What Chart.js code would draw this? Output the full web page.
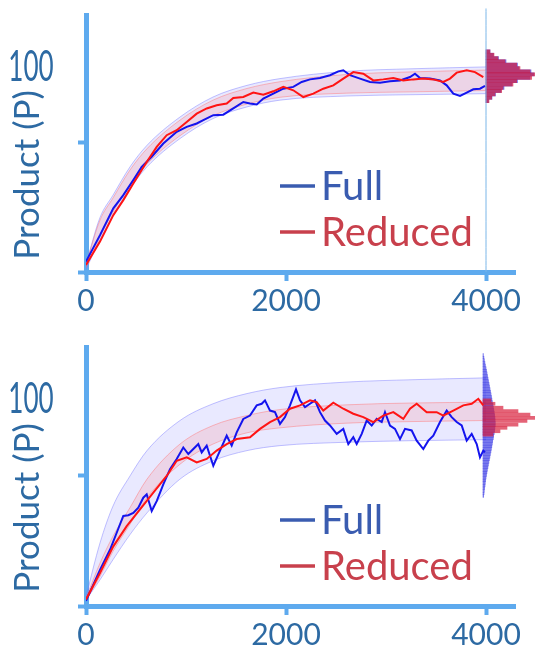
<!DOCTYPE html>
<html>
<head>
<meta charset="utf-8">
<script src="https://cdn.jsdelivr.net/npm/chart.js@4.4.0/dist/chart.umd.min.js"></script>
<style>
  html, body { margin: 0; padding: 0; background: #fff; }
  .panel { position: relative; width: 535px; height: 329px; }
</style>
</head>
<body>
<div class="panel"><canvas id="topChart"></canvas></div>
<div class="panel"><canvas id="bottomChart"></canvas></div>
<script>
// shared axis values
const xTicks = [0, 2000, 4000];
const yTicks = [0, 50];
const finalTime = 4000;
const bandTime = [0, 140, 270, 440, 610, 940, 1270, 1610, 1940, 2610, 3270, 4000];

// top panel
const topFullTime = [0, 140, 273, 373, 473, 557, 657, 773, 907, 1007, 1107, 1173, 1273, 1373, 1473, 1573, 1640, 1707, 1773, 1873, 1973, 2073, 2157, 2240, 2340, 2440, 2523, 2573, 2640, 2740, 2840, 2940, 3040, 3140, 3240, 3290, 3340, 3440, 3540, 3607, 3673, 3740, 3807, 3873, 3940, 3990];
const topFull = [4, 14.2, 24.5, 29.6, 35.4, 40.5, 44.4, 49.5, 54, 55.9, 57.2, 58.5, 60.4, 60.6, 63, 65.5, 64.9, 64.5, 66.8, 68.7, 70.6, 71.3, 73.2, 74.2, 74.7, 75.8, 77.3, 77.7, 75.8, 74.5, 73.2, 72.9, 73.5, 73.8, 75.1, 76.4, 74.7, 74.5, 73.8, 71.9, 68.7, 67.8, 69.1, 70.4, 70.6, 71.7];
const topReducedTime = [0, 140, 273, 373, 473, 607, 707, 807, 907, 1007, 1107, 1207, 1307, 1407, 1473, 1573, 1673, 1773, 1873, 1973, 2073, 2173, 2273, 2373, 2473, 2573, 2673, 2773, 2873, 2973, 3073, 3173, 3273, 3373, 3473, 3573, 3640, 3707, 3807, 3890, 3973];
const topReduced = [2.7, 11.7, 21.9, 27.7, 34.1, 42.4, 48.2, 52.7, 54.6, 57.8, 61, 63, 64.2, 64.9, 67, 67.4, 69.1, 68.3, 69.6, 71.3, 70, 67.4, 68.7, 70.6, 71.9, 74.5, 77, 76.4, 73.8, 74.2, 74.7, 73.8, 74.2, 74.5, 74.2, 73.2, 74.5, 76.8, 77.7, 77, 75.1];
const topFullUpper = [3, 21, 29.6, 40.5, 48.8, 59.7, 67.4, 71.9, 74.5, 77.3, 78.3, 79];
const topFullLower = [1, 12.5, 21.9, 32.2, 40.5, 51.4, 59.1, 63.6, 66.2, 67.8, 68.3, 68.7];
const topReducedUpper = [3, 20, 28.5, 39.3, 47.5, 58.5, 66.2, 70.7, 73.3, 76.1, 77.1, 77.8];
const topReducedLower = [1.5, 13.5, 23, 33.3, 41.6, 52.5, 60.2, 64.7, 67.3, 68.9, 69.4, 69.9];
const topHistBins = [65.8, 67.1, 68.4, 69.7, 70.9, 72.2, 73.5, 74.8, 76.1, 77.3, 78.6, 79.9, 81.2, 82.4, 83.7, 85.0];
const topHistFull = [2.5, 6, 9.5, 15, 18, 26, 31.5, 44, 48, 45, 33, 31.5, 20, 12.5, 7.5, 4];
const topHistReduced = [3, 5.7, 9, 15.7, 17, 27, 30.7, 45.7, 49, 44, 34, 30.7, 19, 12, 8, 4];

// bottom panel
const bottomFullTime = [0, 140, 240, 307, 373, 423, 473, 523, 573, 607, 657, 707, 773, 840, 907, 973, 1023, 1073, 1123, 1157, 1207, 1273, 1340, 1407, 1457, 1507, 1573, 1640, 1707, 1757, 1790, 1840, 1890, 1940, 1990, 2040, 2100, 2140, 2190, 2240, 2290, 2340, 2390, 2440, 2507, 2573, 2623, 2673, 2707, 2757, 2807, 2857, 2907, 2957, 2990, 3040, 3090, 3140, 3190, 3257, 3307, 3373, 3423, 3473, 3540, 3607, 3657, 3707, 3757, 3807, 3857, 3907, 3940, 3973, 3990];
const bottomFull = [2, 13.8, 21.5, 28, 34.4, 34.7, 35.6, 37.6, 41.4, 42.7, 36.3, 40.1, 46.5, 52.3, 56.2, 60.6, 58.1, 60, 61.9, 58.7, 61.3, 53.6, 59.4, 65.1, 61.3, 66.4, 71.5, 72.8, 76.7, 77.3, 78.6, 74.7, 74.1, 69.6, 72.2, 76.7, 82.8, 78.6, 76, 77.3, 78.6, 74.1, 70.9, 69, 65.8, 67.7, 61.9, 64.5, 61.9, 65.8, 70.9, 69, 71.5, 70.3, 74.1, 69, 67.7, 63.8, 67.7, 67.1, 63.2, 60, 63.2, 65.1, 70.3, 74.7, 72.2, 70.3, 69, 63.2, 65.8, 61.9, 56.8, 59.4, 58.8];
const bottomReducedTime = [0, 140, 273, 407, 540, 673, 807, 907, 1007, 1107, 1207, 1307, 1407, 1507, 1640, 1740, 1840, 1940, 2040, 2140, 2240, 2307, 2373, 2473, 2573, 2673, 2773, 2873, 2973, 3073, 3173, 3240, 3307, 3407, 3507, 3573, 3673, 3773, 3857, 3923, 3973];
const bottomReduced = [2.5, 12.6, 22.8, 30.5, 36.9, 43.3, 49.7, 55.5, 56.8, 54.9, 56.2, 59.4, 61.9, 63.8, 64.5, 67.7, 70.3, 72.2, 75.4, 76.7, 78.6, 77.9, 74.7, 77.7, 75.4, 73.5, 72.2, 70.3, 72.8, 74.1, 71.5, 75.4, 77.3, 74.1, 74.1, 72.8, 74.7, 76.7, 77.3, 79.2, 76.7];
const bottomFullUpper = [3.6, 24.1, 38.2, 49.7, 59.4, 70.9, 77.3, 81.2, 83.5, 85.6, 86.5, 87.2];
const bottomFullLower = [2.3, 10, 17.7, 27.3, 35.6, 48.5, 55.5, 59.4, 61.3, 62.6, 63.2, 63.6];
const bottomReducedUpper = [3, 16.4, 26.7, 37.6, 48.5, 61.9, 69, 72.8, 75.1, 76.9, 77.6, 77.9];
const bottomReducedLower = [2.3, 11.3, 20.9, 31.2, 41.4, 54.2, 61.9, 66.2, 68.1, 69.9, 70.5, 70.9];
const bottomHistFullBins = [42, 43, 44, 45, 46, 47, 48, 49, 50, 51, 52, 53, 54, 55, 56, 57, 58, 59, 60, 61, 62, 63, 64, 65, 66, 67, 68, 69, 70, 71, 72, 73, 74, 75, 76, 77, 78, 79, 80, 81, 82, 83, 84, 85, 86, 87, 88, 89, 90, 91, 92, 93, 94, 95, 96];
const bottomHistFull = [0.7, 1, 1.3, 1.6, 2, 2.3, 2.6, 3, 3.5, 3.9, 4.4, 4.9, 5.4, 5.9, 6.4, 6.9, 7.4, 7.9, 8.4, 8.8, 9.3, 9.7, 10.3, 10.7, 11.2, 11.6, 11.9, 12.2, 12.3, 12.1, 11.9, 11.6, 11.2, 10.8, 10.4, 9.9, 9.4, 8.9, 8.5, 8, 7.5, 7, 6.5, 6, 5.5, 5, 4.5, 4, 3.5, 3, 2.4, 1.9, 1.4, 0.9, 0.4];
const bottomHistReducedBins = [65.5, 66.8, 68.1, 69.3, 70.7, 71.9, 73.2, 74.5, 75.8, 77.3, 78.6];
const bottomHistReduced = [10, 17, 24, 35, 44, 52, 47, 35, 20, 12, 8];

const axisColor = '#5eaaee';
const textColor = '#2d6aa3';
const fontFamily = 'Lato';

function pts(xs, ys) {
  return xs.map((x, i) => ({ x: x, y: ys[i] }));
}

function hist(bins, counts) {
  return bins.map((b, i) => ({ x: counts[i], y: b }));
}

const panelText = {
  id: 'panelText',
  afterDraw(chart, args, opts) {
    const { ctx, chartArea, scales } = chart;
    ctx.save();
    ctx.fillStyle = textColor;
    ctx.textAlign = 'center';
    ctx.textBaseline = 'middle';
    ctx.font = '42px ' + fontFamily;
    ctx.translate(31, scales.y.getPixelForValue(opts.cornerValue) + 3);
    ctx.scale(0.62, 1);
    ctx.fillText(opts.cornerLabel, 0, 0);
    ctx.restore();

    ctx.save();
    ctx.font = '40px ' + fontFamily;
    ctx.textAlign = 'left';
    ctx.textBaseline = 'alphabetic';
    chart.data.datasets.filter(d => d.legendColor).forEach((d, i) => {
      const y = chartArea.bottom - 86 + i * 46;
      ctx.strokeStyle = d.legendColor;
      ctx.lineWidth = 3.5;
      ctx.beginPath();
      ctx.moveTo(280, y);
      ctx.lineTo(315, y);
      ctx.stroke();
      ctx.fillStyle = d.legendColor;
      ctx.fillText(d.label, 321, y + 14);
    });
    ctx.restore();
  }
};

function makePanel(id, p) {
  const datasets = [
    { label: 'full lower', data: pts(bandTime, p.fullLower), borderColor: 'rgba(120,120,255,0.45)', borderWidth: 1, fill: false, order: 10 },
    { label: 'full upper', data: pts(bandTime, p.fullUpper), borderColor: 'rgba(120,120,255,0.45)', borderWidth: 1, backgroundColor: 'rgba(120,120,255,0.16)', fill: 0, order: 10 },
    { label: 'reduced lower', data: pts(bandTime, p.reducedLower), borderColor: 'rgba(255,110,110,0.45)', borderWidth: 1, fill: false, order: 9 },
    { label: 'reduced upper', data: pts(bandTime, p.reducedUpper), borderColor: 'rgba(255,110,110,0.45)', borderWidth: 1, backgroundColor: 'rgba(255,110,110,0.17)', fill: 2, order: 9 },
    { label: 'Full', legendColor: '#3a5cb0', data: pts(p.fullTime, p.full), borderColor: '#1414ee', borderWidth: 2, fill: false, tension: 0, cubicInterpolationMode: 'default', order: 2 },
    { label: 'Reduced', legendColor: '#c8404c', data: pts(p.reducedTime, p.reduced), borderColor: '#ff1414', borderWidth: 2, fill: false, tension: 0, cubicInterpolationMode: 'default', order: 1 },
    { type: 'bar', label: 'Full hist', data: hist(p.fullBins, p.fullHist), xAxisID: 'x2', yAxisID: 'y', backgroundColor: 'rgba(30,30,225,0.6)', barThickness: p.fullBarThickness, grouped: false, clip: false, order: 4 },
    { type: 'bar', label: 'Reduced hist', data: hist(p.reducedBins, p.reducedHist), xAxisID: 'x2', yAxisID: 'y', backgroundColor: 'rgba(215,25,55,0.68)', barThickness: 3, grouped: false, clip: false, order: 3 }
  ];
  if (p.marker) {
    datasets.push({ label: 'end', data: pts([finalTime, finalTime], p.marker), borderColor: '#7ab6e8', borderWidth: 1, fill: false, clip: false, order: 0 });
  }

  return new Chart(document.getElementById(id), {
    type: 'line',
    data: { datasets: datasets },
    options: {
      responsive: true,
      maintainAspectRatio: false,
      animation: false,
      layout: { padding: { top: p.padTop, right: 20, left: 0, bottom: 0 } },
      elements: {
        point: { radius: 0 },
        line: { tension: 0.4, cubicInterpolationMode: 'monotone' }
      },
      datasets: { bar: { indexAxis: 'y' } },
      plugins: {
        legend: { display: false },
        tooltip: { enabled: false },
        panelText: { cornerLabel: '100', cornerValue: 80 }
      },
      scales: {
        x: {
          type: 'linear',
          min: 0,
          max: 4290,
          afterBuildTicks: s => { s.ticks = xTicks.map(v => ({ value: v })); },
          afterFit: s => { s.height = p.xHeight; },
          ticks: { color: textColor, font: { family: fontFamily, size: 30 }, padding: 2, maxRotation: 0, callback: v => String(v) },
          grid: { drawOnChartArea: false, drawTicks: true, tickLength: 9, tickWidth: 4, tickColor: axisColor, offset: false },
          border: { color: axisColor, width: 5 }
        },
        y: {
          type: 'linear',
          min: 0,
          max: 99,
          offset: false,
          afterBuildTicks: s => { s.ticks = yTicks.map(v => ({ value: v })); },
          afterFit: s => { s.width = 86; },
          ticks: { display: false },
          grid: { drawOnChartArea: false, drawTicks: true, tickLength: 8, tickWidth: 4, tickColor: axisColor, offset: false },
          border: { color: axisColor, width: 5 },
          title: { display: true, text: 'Product (P)\u00a0\u00a0\u00a0\u00a0\u00a0\u00a0\u00a0', color: textColor, font: { family: fontFamily, size: 35 }, padding: { top: 7, bottom: 0 } }
        },
        x2: {
          type: 'linear',
          display: false,
          min: -(p.histBase - 86),
          max: 515 - p.histBase,
          grid: { display: false }
        }
      }
    },
    plugins: [panelText]
  });
}

makePanel('topChart', {
  padTop: 15, xHeight: 57, histBase: 486,
  fullTime: topFullTime, full: topFull,
  reducedTime: topReducedTime, reduced: topReduced,
  fullUpper: topFullUpper, fullLower: topFullLower,
  reducedUpper: topReducedUpper, reducedLower: topReducedLower,
  fullBins: topHistBins, fullHist: topHistFull, fullBarThickness: 3,
  reducedBins: topHistBins, reducedHist: topHistReduced,
  marker: [0, 101.5]
});

makePanel('bottomChart', {
  padTop: 18, xHeight: 52, histBase: 483,
  fullTime: bottomFullTime, full: bottomFull,
  reducedTime: bottomReducedTime, reduced: bottomReduced,
  fullUpper: bottomFullUpper, fullLower: bottomFullLower,
  reducedUpper: bottomReducedUpper, reducedLower: bottomReducedLower,
  fullBins: bottomHistFullBins, fullHist: bottomHistFull, fullBarThickness: 2.4,
  reducedBins: bottomHistReducedBins, reducedHist: bottomHistReduced,
  marker: null
});
</script>
</body>
</html>
